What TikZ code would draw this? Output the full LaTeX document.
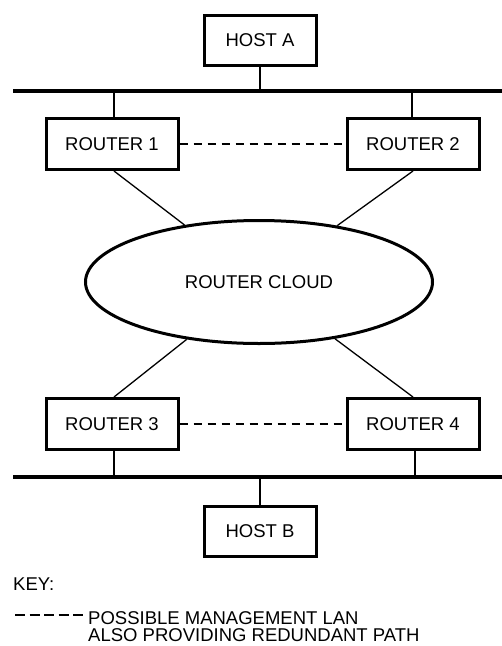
\documentclass[tikz,border=0pt]{standalone}
\usepackage{fontspec}
\setmainfont{Liberation Sans}
\usetikzlibrary{shapes.geometric}

\begin{document}
\begin{tikzpicture}[x=1pt,y=-1pt,
  font=\fontsize{18.5}{21}\selectfont,
  box/.style={draw,line width=3pt,minimum width=132pt,minimum height=51pt,inner sep=0pt},
  hostbox/.style={box,minimum width=112pt,minimum height=50pt},
  cloud/.style={draw,ellipse,line width=3pt,minimum width=347pt,minimum height=123pt,inner sep=0pt},
  bus/.style={line width=4pt},
  link/.style={line width=1.3pt},
  mgmt/.style={line width=1.3pt,dash pattern=on 8pt off 6pt}]
\useasboundingbox (0,0) rectangle (502,646);

\coordinate (busAL) at (13,91);
\coordinate (busAR) at (502,91);
\coordinate (busBL) at (13,477);
\coordinate (busBR) at (502,477);

\node[hostbox] (hostA) at (260,40) {HOST A};
\node[box] (r1) at (112,144) {ROUTER 1};
\node[box] (r2) at (413,144) {ROUTER 2};
\node[cloud] (rcloud) at (259,282) {ROUTER CLOUD};
\node[box] (r3) at (112,424) {ROUTER 3};
\node[box] (r4) at (413,424) {ROUTER 4};
\node[hostbox] (hostB) at (260,531) {HOST B};

\draw[bus] (busAL) -- (busAR);
\draw[bus] (busBL) -- (busBR);

\draw[link] (hostA.south) -- (hostA.south |- busAL);
\draw[link] ([xshift=2pt]r1.north) -- ([xshift=2pt]r1.north |- busAL);
\draw[link] ([xshift=-1pt]r2.north) -- ([xshift=-1pt]r2.north |- busAL);
\draw[link] ([xshift=2pt]r3.south) -- ([xshift=2pt]r3.south |- busBL);
\draw[link] ([xshift=2pt]r4.south) -- ([xshift=2pt]r4.south |- busBL);
\draw[link] (hostB.north) -- (hostB.north |- busBL);

\draw[link] ([xshift=2pt]r1.south) -- (rcloud);
\draw[link] (r2.south) -- (rcloud);
\draw[link] ([xshift=2pt]r3.north) -- (rcloud);
\draw[link] (r4.north) -- (rcloud);

\draw[mgmt] (r1) -- (r2);
\draw[mgmt] (r3) -- (r4);

\node[anchor=base west,inner sep=0pt] (key) at (13,590) {KEY:};
\coordinate (keyL) at (15,615);
\coordinate (keyR) at (83,615);
\draw[line width=1.3pt,dash pattern=on 10pt off 4.5pt] (keyL) -- (keyR);
\node[anchor=west,align=left,inner sep=0pt,font=\fontsize{18.5}{17}\selectfont] (keytext) at (88,627)
  {POSSIBLE MANAGEMENT LAN\\ALSO PROVIDING REDUNDANT PATH};
\end{tikzpicture}
\end{document}
